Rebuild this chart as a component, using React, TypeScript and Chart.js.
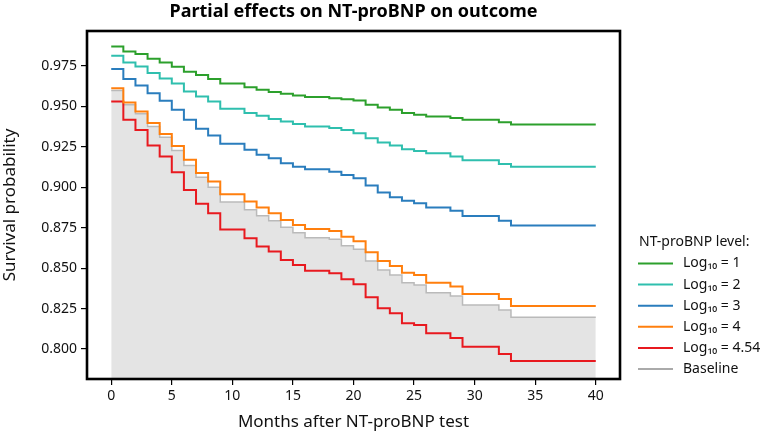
import React, { useEffect, useRef } from 'react';
import { Chart, registerables } from 'chart.js';

Chart.register(...registerables);

const FONT = '"Noto Sans", "DejaVu Sans", sans-serif';

const chartTitle = 'Partial effects on NT-proBNP on outcome';
const xAxisTitle = 'Months after NT-proBNP test';
const yAxisTitle = 'Survival probability';
const legendTitle = 'NT-proBNP level:';

const months = [0, 1, 2, 3, 4, 5, 6, 7, 8, 9, 11, 12, 13, 14, 15, 16, 18, 19, 20, 21, 22, 23, 24, 25, 26, 28, 29, 32, 33, 40];

const log1 = [0.9870, 0.9839, 0.9823, 0.9793, 0.9771, 0.9744, 0.9713, 0.9693, 0.9668, 0.9641, 0.9618, 0.9602, 0.9588, 0.9577, 0.9567, 0.9557, 0.9550, 0.9544, 0.9536, 0.9509, 0.9492, 0.9478, 0.9458, 0.9447, 0.9437, 0.9427, 0.9417, 0.9402, 0.9387, 0.9387];
const log2 = [0.9812, 0.9771, 0.9746, 0.9705, 0.9672, 0.9641, 0.9591, 0.9560, 0.9529, 0.9484, 0.9458, 0.9441, 0.9422, 0.9406, 0.9390, 0.9375, 0.9365, 0.9354, 0.9334, 0.9303, 0.9276, 0.9257, 0.9235, 0.9224, 0.9210, 0.9189, 0.9167, 0.9144, 0.9127, 0.9127];
const log3 = [0.9730, 0.9668, 0.9628, 0.9581, 0.9534, 0.9478, 0.9416, 0.9361, 0.9319, 0.9268, 0.9231, 0.9200, 0.9179, 0.9148, 0.9127, 0.9111, 0.9096, 0.9076, 0.9056, 0.9010, 0.8967, 0.8938, 0.8917, 0.8901, 0.8874, 0.8855, 0.8822, 0.8793, 0.8763, 0.8763];
const log4 = [0.9612, 0.9523, 0.9468, 0.9396, 0.9328, 0.9255, 0.9169, 0.9087, 0.9035, 0.8957, 0.8911, 0.8874, 0.8839, 0.8798, 0.8767, 0.8742, 0.8730, 0.8694, 0.8666, 0.8598, 0.8544, 0.8513, 0.8472, 0.8458, 0.8410, 0.8387, 0.8340, 0.8309, 0.8266, 0.8266];
const log454 = [0.9529, 0.9416, 0.9354, 0.9257, 0.9189, 0.9093, 0.8983, 0.8897, 0.8839, 0.8738, 0.8685, 0.8633, 0.8602, 0.8550, 0.8519, 0.8484, 0.8468, 0.8432, 0.8400, 0.8320, 0.8252, 0.8221, 0.8159, 0.8148, 0.8097, 0.8069, 0.8014, 0.7969, 0.7926, 0.7926];
const baseline = [0.9597, 0.9509, 0.9453, 0.9375, 0.9309, 0.9226, 0.9134, 0.9062, 0.9000, 0.8909, 0.8860, 0.8823, 0.8792, 0.8753, 0.8719, 0.8688, 0.8678, 0.8638, 0.8617, 0.8544, 0.8489, 0.8458, 0.8410, 0.8396, 0.8348, 0.8328, 0.8272, 0.8241, 0.8196, 0.8196];

const seriesLabels = ['Log₁₀ = 1', 'Log₁₀ = 2', 'Log₁₀ = 3', 'Log₁₀ = 4', 'Log₁₀ = 4.54', 'Baseline'];
const seriesValues = [log1, log2, log3, log4, log454, baseline];
const seriesColors = ['#2ca02c', '#2fbfae', '#2a7dbd', '#ff7f0e', '#e8191f', '#bababa'];

const xTicks = [0, 5, 10, 15, 20, 25, 30, 35, 40];
const yTicks = [0.8, 0.825, 0.85, 0.875, 0.9, 0.925, 0.95, 0.975];

export default function App() {
  const ref = useRef<HTMLCanvasElement>(null);

  useEffect(() => {
    const canvas = ref.current;
    if (!canvas) return;

    const decorPlugin = {
      id: 'decor',
      afterDraw(chart: any) {
        const { ctx, chartArea } = chart;
        ctx.save();
        // frame
        ctx.strokeStyle = '#000';
        ctx.lineWidth = 2.6;
        ctx.strokeRect(chartArea.left, chartArea.top, chartArea.right - chartArea.left, chartArea.bottom - chartArea.top);
        // title
        ctx.fillStyle = '#000';
        ctx.font = `bold 18px ${FONT}`;
        ctx.textAlign = 'center';
        ctx.textBaseline = 'middle';
        ctx.fillText(chartTitle, (chartArea.left + chartArea.right) / 2, 12);
        // legend
        ctx.textAlign = 'left';
        ctx.font = `14px ${FONT}`;
        ctx.fillStyle = '#111';
        ctx.fillText(legendTitle, 639, 242);
        chart.data.datasets.forEach((ds: any, i: number) => {
          const y = 263.5 + i * 21.1;
          ctx.strokeStyle = i === 5 ? '#aaaaaa' : ds.borderColor;
          ctx.lineWidth = 2;
          ctx.beginPath();
          ctx.moveTo(638, y);
          ctx.lineTo(673, y);
          ctx.stroke();
          ctx.fillText(ds.label, 683, y);
        });
        ctx.restore();
      },
    };

    const datasets = seriesValues.map((vals, i) => ({
      label: seriesLabels[i],
      data: months.map((m, j) => ({ x: m, y: vals[j] })),
      borderColor: seriesColors[i],
      backgroundColor: i === 5 ? '#e4e4e4' : seriesColors[i],
      borderWidth: i === 5 ? 1.5 : 2,
      fill: i === 5 ? 'start' : false,
      stepped: 'before' as const,
      pointRadius: 0,
      tension: 0,
    }));

    const chart = new Chart(canvas, {
      type: 'line',
      data: { datasets },
      options: {
        animation: false,
        responsive: false,
        layout: { padding: { top: 31, right: 142, left: 0, bottom: 0 } },
        plugins: {
          legend: { display: false },
          title: { display: false },
          tooltip: { enabled: false },
        },
        scales: {
          x: {
            type: 'linear',
            min: -2,
            max: 42,
            afterBuildTicks: (s: any) => {
              s.ticks = xTicks.map((v) => ({ value: v }));
            },
            afterFit: (s: any) => {
              s.height = 55;
            },
            grid: { drawOnChartArea: false, drawTicks: true, tickLength: 6, color: '#000', lineWidth: 1.2 },
            border: { display: false },
            ticks: {
              font: { size: 14, family: FONT },
              color: '#111',
              padding: 3,
              maxRotation: 0,
              callback: (v: any) => String(v),
            },
            title: {
              display: true,
              text: xAxisTitle,
              font: { size: 17, family: FONT },
              color: '#111',
              padding: { top: 0, bottom: 2 },
            },
          },
          y: {
            type: 'linear',
            min: 0.7815,
            max: 0.9965,
            afterBuildTicks: (s: any) => {
              s.ticks = yTicks.map((v) => ({ value: v }));
            },
            afterFit: (s: any) => {
              s.width = 87;
            },
            grid: { drawOnChartArea: false, drawTicks: true, tickLength: 6, color: '#000', lineWidth: 1.2 },
            border: { display: false },
            ticks: {
              font: { size: 14, family: FONT },
              color: '#111',
              padding: 4,
              callback: (v: any) => Number(v).toFixed(3),
            },
            title: {
              display: true,
              text: yAxisTitle,
              font: { size: 17, family: FONT },
              color: '#111',
              padding: { top: 0, bottom: 0 },
            },
          },
        },
      },
      plugins: [decorPlugin],
    });

    return () => chart.destroy();
  }, []);

  return (
    <div style={{ position: 'absolute', left: 0, top: 0, width: 762, height: 434 }}>
      <canvas ref={ref} width={762} height={434} style={{ display: 'block' }} />
    </div>
  );
}
